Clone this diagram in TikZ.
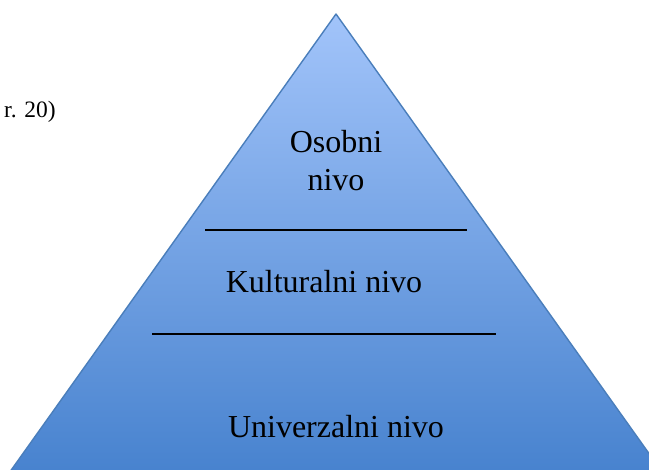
\documentclass[tikz,border=0pt]{standalone}
\usepackage{fontspec}
\setmainfont{Liberation Serif}
\usetikzlibrary{calc}

\definecolor{pyrtop}{RGB}{162,196,250}
\definecolor{pyrbot}{RGB}{68,128,205}
\definecolor{pyredge}{RGB}{74,126,187}

\tikzset{
    lvl/.style={inner sep=0pt, font=\fontsize{32}{38.4}\selectfont},
    bar/.style={line width=2.6pt}
}

\begin{document}
\begin{tikzpicture}[x=1pt,y=-1pt]
    % page frame
        \useasboundingbox (0,0) rectangle (649,470);
        \clip (0,0) rectangle (649,470);

    % mark corners of pyramid
        \coordinate (T) at (336,14);
        \coordinate (L) at (-3,490);
        \coordinate (R) at (675,490);

    % draw pyramid
        \shade[top color=pyrtop, bottom color=pyrbot] (T) -- (L) -- (R) -- cycle;
        \draw[pyredge, line width=1.4pt, line join=round] (L) -- (T) -- (R);

    % separator lines
        \coordinate (s1a) at (205,230);
        \coordinate (s1b) at (467,230);
        \coordinate (s2a) at (152,334);
        \coordinate (s2b) at (496,334);
        \draw[bar] (s1a) -- (s1b);
        \draw[bar] (s2a) -- (s2b);

    % level labels
        \node[lvl, anchor=base] (osobni) at (336,153) {Osobni};
        \node[lvl, anchor=base] (osobnib) at (336,191) {nivo};
        \node[lvl, anchor=base] (kult) at (324,293) {Kulturalni nivo};
        \node[lvl, anchor=base] (univ) at (336,438) {Univerzalni nivo};

    % cut-off reference on the left
        \node[inner sep=0pt, anchor=base east, font=\fontsize{23.5}{28}\selectfont] (ref) at (56,118) {r. 20)};
\end{tikzpicture}
\end{document}
